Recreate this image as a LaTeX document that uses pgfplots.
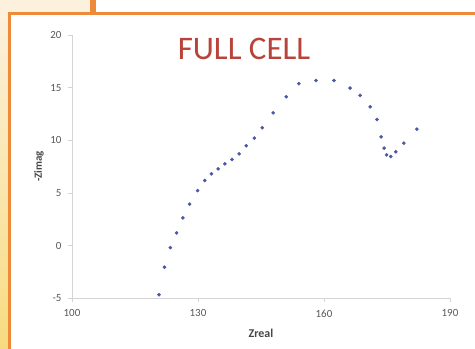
\documentclass[border=0pt]{standalone}
\usepackage{pgfplots}
\pgfplotsset{compat=1.18}
\usepackage{fontspec}
\setmainfont{Carlito}
\definecolor{frameorange}{HTML}{EE8B3A}
\definecolor{titlered}{HTML}{B8433A}
\definecolor{tickgray}{HTML}{595959}
\definecolor{axgray}{HTML}{D4D4D4}
\definecolor{markblue}{HTML}{4A56A6}
\definecolor{beigetop}{HTML}{FCF1DC}
\definecolor{yellowbot}{HTML}{F8DB80}
\pgfplotstableread{
x y
120.7 -4.66
122.0 -2.05
123.4 -0.19
124.9 1.21
126.4 2.63
128.0 3.94
129.9 5.23
131.6 6.18
133.2 6.82
134.8 7.29
136.4 7.77
138.1 8.18
139.8 8.72
141.5 9.48
143.4 10.21
145.3 11.19
147.9 12.61
151.0 14.14
154.0 15.38
158.1 15.68
162.4 15.68
166.2 14.96
168.6 14.26
171.0 13.18
172.6 11.98
173.6 10.33
174.3 9.26
174.9 8.62
175.9 8.46
177.1 8.91
179.0 9.73
182.1 11.06
}\datatable
\begin{document}
\begin{tikzpicture}
\useasboundingbox (0bp,0bp) rectangle (475bp,349bp);
\fill[white] (0bp,0bp) rectangle (475bp,349bp);
\shade[top color=beigetop, bottom color=yellowbot] (0bp,0bp) rectangle (9bp,335bp);
\fill[beigetop] (0bp,335bp) rectangle (91bp,349bp);
\fill[frameorange] (90bp,335bp) rectangle (96bp,349bp);
\draw[frameorange, line width=3bp] (9bp,0bp) -- (9bp,335bp) -- (476bp,335bp);
\begin{axis}[
  at={(72bp,50.7bp)}, anchor=south west,
  scale only axis, width=378bp, height=263.3bp,
  xmin=100, xmax=190, ymin=-5, ymax=20,
  xtick={100,130,160,190}, ytick={-5,0,5,10,15,20},
  axis lines=left, axis line style={-, axgray, line width=0.8bp},
  tick style={axgray, line width=0.8bp}, tick align=outside, major tick length=4bp,
  ticklabel style={font=\fontsize{11}{11}\selectfont, text=tickgray},
  /pgf/number format/assume math mode=true,
  yticklabel style={xshift=-3bp},
  xticklabel style={yshift=-4bp},
  xlabel={\textbf{Zreal}}, ylabel={\textbf{-Zimag}},
  xlabel style={at={(axis description cs:0.5,-0.133)}, anchor=center, font=\fontsize{12}{12}\selectfont, text=tickgray!80!black},
  ylabel style={at={(axis description cs:-0.0873,0.5)}, anchor=center, font=\fontsize{11}{11}\selectfont, text=tickgray!80!black},
  clip=false,
]
\addplot[only marks, mark=*, mark size=1.6bp, color=markblue] table[x=x,y=y] {\datatable};
\end{axis}
\node[anchor=base, text=titlered, font=\fontsize{33}{33}\selectfont] at (244bp,289bp) {FULL CELL};
\end{tikzpicture}
\end{document}
